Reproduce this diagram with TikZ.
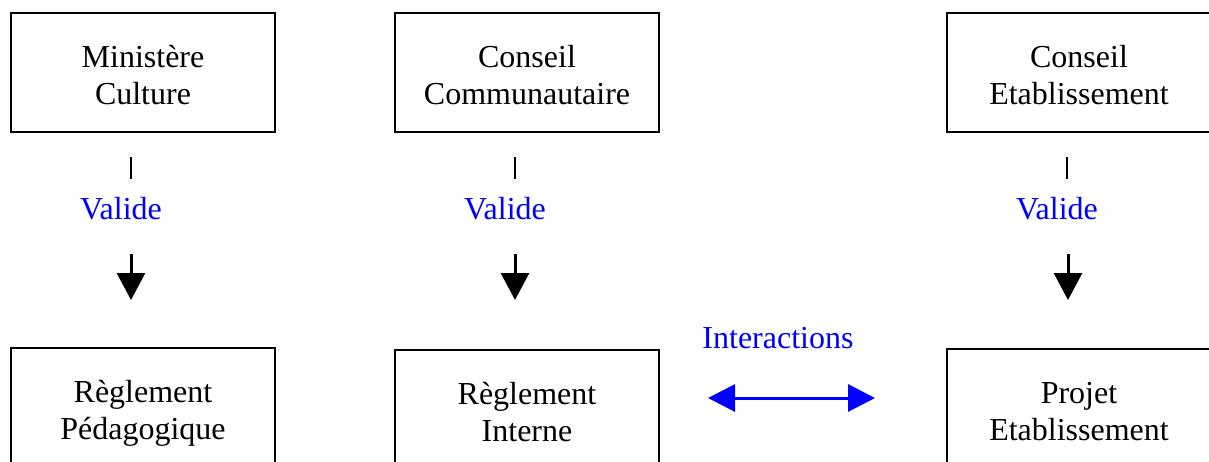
\documentclass[tikz,border=0pt]{standalone}
\usepackage{fontspec}
\setmainfont{Liberation Serif}
\usetikzlibrary{arrows.meta}
\definecolor{vblue}{RGB}{0,0,255}
\newcommand\twolines[2]{\rule{0pt}{34pt}#1\\#2\rule[-8pt]{0pt}{0pt}}
\begin{document}
\begin{tikzpicture}[x=1pt,y=-1pt,
  box/.style={draw=black,line width=2pt,minimum width=264pt,minimum height=119pt,inner sep=0pt,
    align=center,font=\fontsize{32}{37}\selectfont},
  lbl/.style={text=vblue,font=\fontsize{32}{37}\selectfont,inner sep=0pt,anchor=base},
  tick/.style={line width=2.5pt},
  varrow/.style={line width=3pt,-{Triangle[length=27pt,width=28pt]}},
  harrow/.style={vblue,line width=3pt,{Triangle[length=27pt,width=27pt]}-{Triangle[length=27pt,width=27pt]}}]
\useasboundingbox (0,0) rectangle (1209,461);
% top boxes
\node[box] (mc) at (143,72.5) {\twolines{Ministère}{Culture}};
\node[box] (cc) at (527,72.5) {\twolines{Conseil}{Communautaire}};
\node[box] (ce) at (1079,72.5) {\twolines{Conseil}{Etablissement}};
% bottom boxes
\node[box] (rp) at (143,407.5) {\twolines{Règlement}{Pédagogique}};
\node[box] (ri) at (527,409.5) {\twolines{Règlement}{Interne}};
\node[box] (pe) at (1079,408.5) {\twolines{Projet}{Etablissement}};
% labels
\node[lbl] (v1) at (121,219) {Valide};
\node[lbl] (v2) at (505,219) {Valide};
\node[lbl] (v3) at (1057,219) {Valide};
\node[lbl] (ia) at (778,348) {Interactions};
% tick marks
\coordinate (t1a) at (131,157); \coordinate (t1b) at (131,179);
\coordinate (t2a) at (515,157); \coordinate (t2b) at (515,179);
\coordinate (t3a) at (1067,157); \coordinate (t3b) at (1067,179);
\draw[tick] (t1a) -- (t1b);
\draw[tick] (t2a) -- (t2b);
\draw[tick] (t3a) -- (t3b);
% arrows
\coordinate (a1a) at (131,254); \coordinate (a1b) at (131,300);
\coordinate (a2a) at (515,254); \coordinate (a2b) at (515,300);
\coordinate (a3a) at (1068,254); \coordinate (a3b) at (1068,300);
\draw[varrow] (a1a) -- (a1b);
\draw[varrow] (a2a) -- (a2b);
\draw[varrow] (a3a) -- (a3b);
% interaction arrow
\coordinate (il) at (708,398); \coordinate (ir) at (875,398);
\draw[harrow] (il) -- (ir);
\end{tikzpicture}
\end{document}
